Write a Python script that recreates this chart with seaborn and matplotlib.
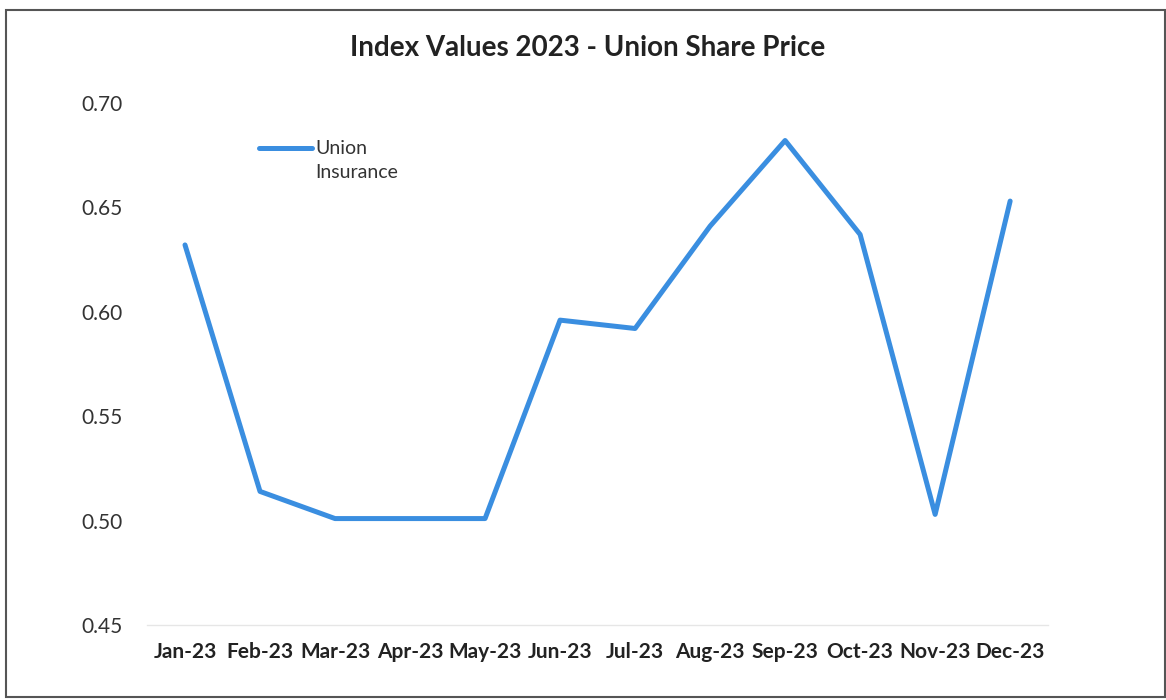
import pandas as pd
import matplotlib.pyplot as plt
import seaborn as sns

sns.set_style("white")
plt.rcParams['font.family'] = ['Lato', 'DejaVu Sans']

# Data
months = ["Jan-23", "Feb-23", "Mar-23", "Apr-23", "May-23", "Jun-23",
          "Jul-23", "Aug-23", "Sep-23", "Oct-23", "Nov-23", "Dec-23"]
union_insurance = [0.632, 0.514, 0.501, 0.501, 0.501, 0.596,
                   0.592, 0.641, 0.682, 0.637, 0.503, 0.653]
y_ticks = [0.45, 0.50, 0.55, 0.60, 0.65, 0.70]

df = pd.DataFrame({"Month": months, "Union Insurance": union_insurance})

fig = plt.figure(figsize=(11.66, 7), dpi=100)
ax = fig.add_axes([0.1265, 0.107, 0.772, 0.746])

sns.lineplot(data=df, x="Month", y="Union Insurance", ax=ax,
             color="#3a8ee0", linewidth=3.6, sort=False,
             label="Union\nInsurance")

ax.set_xlim(-0.5, len(months) - 0.5)
ax.set_ylim(0.45, 0.70)
ax.set_yticks(y_ticks)
ax.set_yticklabels([f"{v:.2f}" for v in y_ticks])
ax.set_xlabel("")
ax.set_ylabel("")
ax.tick_params(axis='y', labelsize=15, colors="#333333", length=0, pad=18)
ax.tick_params(axis='x', labelsize=15, colors="#222222", length=0, pad=12)
for lbl in ax.get_xticklabels():
    lbl.set_fontweight("bold")

sns.despine(ax=ax, left=True, top=True, right=True)
ax.spines['bottom'].set_color("#e6e6e6")
ax.spines['bottom'].set_linewidth(1)

leg = ax.legend(loc="upper left", bbox_to_anchor=(0.124, 0.928), frameon=False,
                fontsize=14, handlelength=2.7, handletextpad=0.2,
                borderpad=0, borderaxespad=0)
for t in leg.get_texts():
    t.set_color("#333333")
    t.set_linespacing(1.45)
# key line sits level with the first line of the wrapped label
for h in leg.legend_handles:
    h.set_ydata(h.get_ydata() + 9.5)

fig.text(0.504, 0.932, "Index Values 2023 - Union Share Price",
         ha="center", va="center", fontsize=20, fontweight="bold", color="#222222")

# scanned frame around the chart
border = plt.Rectangle((0.005, 0.004), 0.994, 0.982, transform=fig.transFigure,
                       fill=False, edgecolor="#555555", linewidth=1.5)
fig.patches.append(border)

fig.savefig("out.png", dpi=100)
